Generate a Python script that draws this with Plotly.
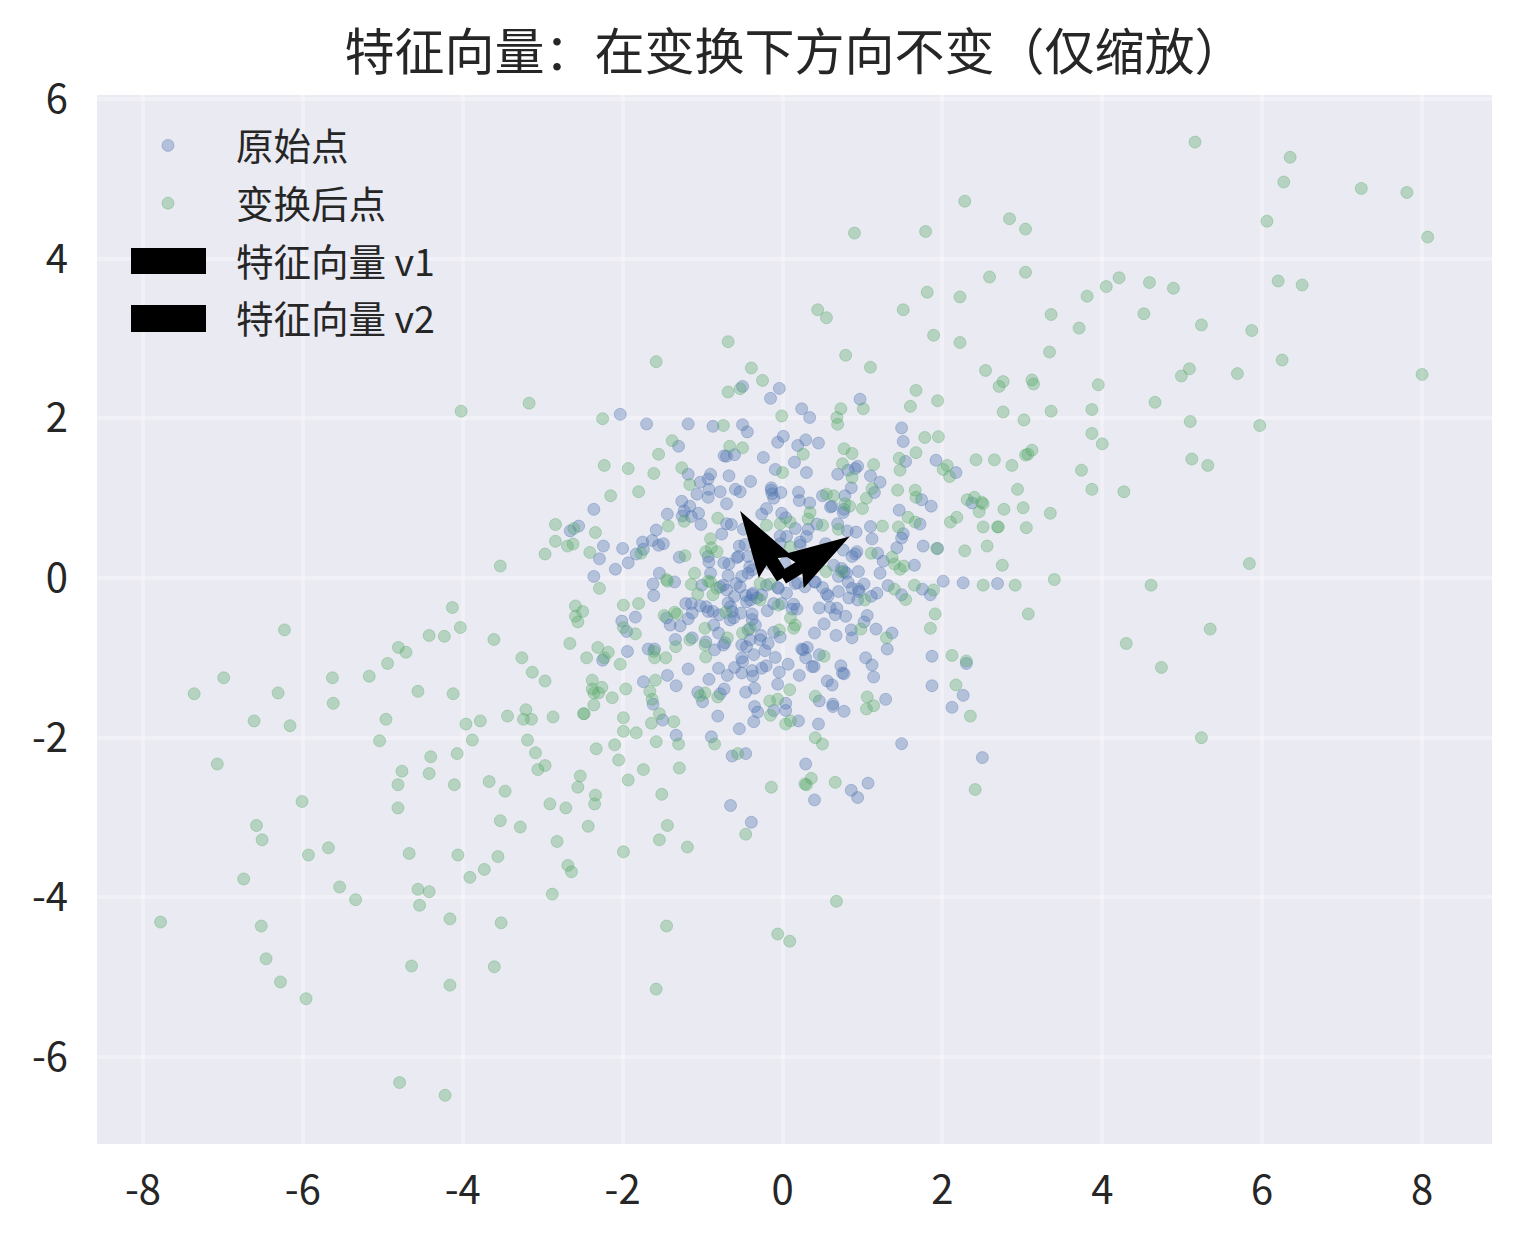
import plotly.graph_objects as go

# values as (x, y)
original_points = [
    (-2.03,2.05),(-1.70,1.93),(-1.18,1.93),(-0.87,1.90),(-0.50,1.92),(-0.44,1.83),(-0.15,2.25),(-0.04,2.375),
    (-0.50,2.40),(0.24,2.12),(0.34,2.01),(0.97,2.24),(1.49,1.88),(1.51,1.71),(-1.30,1.65),(0.01,1.775),
    (-0.06,1.70),(0.29,1.73),(0.19,1.66),(0.45,1.69),(-0.73,1.53),(-0.70,1.525),(-0.60,1.545),(-0.24,1.51),
    (0.15,1.45),(-0.09,1.36),(0.30,1.32),(0.69,1.30),(0.91,1.37),(0.94,1.40),(0.82,1.35),(1.10,1.28),
    (1.22,1.20),(1.54,1.46),(1.92,1.475),(2.17,1.32),(0.86,1.13),(-1.18,1.30),(-0.90,1.30),(-0.93,1.24),
    (-0.67,1.28),(-1.03,1.20),(-0.40,1.21),(-0.92,1.11),(-0.78,1.08),(-0.59,1.11),(-0.53,1.08),(-1.07,1.05),
    (-0.93,1.01),(-0.14,1.13),(-0.14,1.10),(-0.13,1.055),(-0.11,1.00),(-0.02,1.07),(0.20,1.075),(0.21,0.97),
    (0.34,0.94),(0.50,1.03),(0.78,1.03),(0.62,0.90),(0.60,0.89),(1.15,1.07),(1.46,0.85),(1.74,0.98),
    (1.86,0.90),(-2.36,0.86),(-1.26,0.96),(-1.16,0.90),(-1.23,0.84),(-1.255,0.775),(-1.14,0.77),(-1.05,0.81),
    (-1.44,0.80),(-1.02,0.67),(-0.70,0.93),(-0.20,0.87),(-0.26,0.80),(-0.01,0.81),(0.04,0.755),(0.76,0.82),
    (0.77,0.86),(0.69,0.68),(1.10,0.645),(1.72,0.675),(-2.55,0.65),(-2.655,0.59),(-1.58,0.60),(-0.70,0.68),
    (-0.64,0.67),(-0.76,0.55),(-0.49,0.61),(0.16,0.62),(0.32,0.61),(0.43,0.675),(0.81,0.59),
    (0.92,0.575),(1.12,0.49),(1.51,0.555),(1.49,0.50),(1.43,0.38),(1.76,0.40),(1.94,0.37),(-2.24,0.40),
    (-2.00,0.37),(-1.75,0.45),(-1.63,0.47),(-1.55,0.41),(-1.49,0.43),(-1.74,0.36),(-1.83,0.30),(-2.29,0.24),
    (-1.93,0.19),(-2.09,0.11),(-2.36,0.02),(-1.54,0.06),(-1.29,0.26),(-0.93,0.27),(-0.92,0.20),(-0.90,0.06),
    (-0.735,0.19),(-0.67,0.175),(-0.57,0.255),(-0.54,0.40),(-0.47,0.42),(-0.43,0.27),(-0.68,0.03),(-0.51,0.02),
    (-0.38,0.10),(-0.03,0.525),(0.05,0.52),(0.22,0.45),(0.30,0.52),(-0.03,0.43),(0.54,0.43),(0.76,0.35),
    (0.87,0.27),(0.93,0.33),(0.91,0.30),(1.19,0.31),(1.26,0.21),(1.65,0.16),(0.74,0.12),(0.77,0.08),
    (0.70,0.02),(0.95,0.08),(1.22,0.06),(2.01,-0.04),(-1.62,-0.075),(-1.61,-0.22),(-1.35,-0.05),(-1.01,-0.09),
    (-0.74,-0.09),(-0.58,-0.07),(-0.70,-0.15),(-0.60,-0.23),(-0.46,-0.22),(-0.38,-0.21),(-0.32,-0.25),(-0.26,-0.21),
    (-0.45,-0.30),(-0.40,-0.275),(-0.06,-0.12),(0.05,-0.19),(0.19,-0.06),(0.28,-0.11),(0.40,-0.05),(0.50,-0.12),
    (0.55,-0.20),(0.57,-0.225),(0.70,-0.17),(0.83,-0.25),(0.87,-0.13),(0.95,-0.14),(0.96,-0.17),(1.02,-0.075),
    (0.94,-0.275),(1.11,-0.23),(1.18,-0.19),(1.32,-0.095),(1.49,-0.21),(1.75,-0.14),(1.85,-0.21),(2.26,-0.06),
    (-1.21,-0.32),(-1.14,-0.32),(-1.13,-0.44),(-1.03,-0.35),(-0.955,-0.36),(-0.93,-0.42),(-0.87,-0.42),(-0.79,-0.46),
    (-0.68,-0.31),(-0.65,-0.36),(-0.63,-0.42),(-0.655,-0.525),(-0.61,-0.50),(-0.52,-0.44),(-0.38,-0.45),(-0.38,-0.52),
    (-0.19,-0.41),(-0.11,-0.32),(-0.01,-0.32),(0.14,-0.33),(0.18,-0.39),(0.12,-0.39),(0.46,-0.375),(0.595,-0.37),
    (0.68,-0.38),(0.66,-0.46),(0.79,-0.48),(1.06,-0.47),(1.02,-0.55),(0.52,-0.575),(0.86,-0.65),(0.40,-0.69),
    (0.67,-0.72),(0.87,-0.75),(1.17,-0.64),(1.37,-0.69),(1.31,-0.89),(1.87,-0.98),(1.04,-1.00),(1.12,-1.09),
    (1.14,-1.24),(1.87,-1.35),(1.29,-1.52),(2.12,-1.62),(2.26,-1.47),(-2.01,-0.54),(-1.84,-0.49),(-1.95,-0.67),
    (-1.45,-0.50),(-1.405,-0.59),(-1.28,-0.60),(-1.18,-0.51),(-0.86,-0.59),(-0.80,-0.69),(-1.13,-0.75),(-1.34,-0.77),
    (-0.96,-0.80),(-0.72,-0.81),(-0.74,-0.84),(-0.85,-0.90),(-0.34,-0.59),(-0.43,-0.65),(-0.27,-0.72),(-0.28,-0.775),
    (-0.405,-0.775),(-0.51,-0.84),(-0.45,-0.86),(-0.18,-0.82),(-0.22,-0.91),(-0.36,-0.96),(-0.11,-0.68),(-0.03,-0.74),
    (-0.09,-0.995),(0.24,-0.89),(0.31,-0.87),(0.26,-0.90),(0.29,-1.00),(0.46,-0.96),(0.37,-1.11),(0.395,-1.11),
    (0.73,-1.10),(0.75,-1.19),(0.77,-1.20),(0.07,-1.08),(0.21,-1.22),(0.56,-1.29),(0.62,-1.34),(-0.04,-1.18),
    (-0.06,-1.33),(-0.205,-1.10),(-0.26,-1.13),(-0.38,-1.16),(-0.37,-1.23),(-0.51,-1.19),(-0.60,-1.12),(-0.51,-1.00),
    (-0.50,-1.05),(-0.80,-1.13),(-0.69,-1.22),(-0.92,-1.27),(-1.18,-1.14),(-1.44,-1.22),(-1.74,-1.30),(-1.33,-1.35),
    (-1.94,-0.92),(-1.68,-0.89),(-1.60,-0.89),(-2.25,-1.03),(-0.35,-1.38),(-0.46,-1.43),(-1.06,-1.43),(-1.00,-1.55),
    (-0.78,-1.45),(-0.73,-1.39),(-1.62,-1.58),(-0.81,-1.73),(-0.35,-1.61),(-0.31,-1.68),(-0.36,-1.80),(-0.54,-1.89),
    (-0.11,-1.66),(0.04,-1.57),(0.04,-1.66),(0.20,-1.79),(0.45,-1.83),(0.46,-1.54),(0.63,-1.58),(0.63,-1.61),
    (0.77,-1.67),(-1.50,-1.78),(-1.33,-1.97),(-0.89,-1.99),(-0.63,-2.23),(-0.46,-2.20),(0.29,-2.33),(1.49,-2.075),
    (-0.65,-2.85),(-0.39,-3.06),(0.40,-2.78),(0.86,-2.66),(0.94,-2.75),(1.07,-2.57),(2.37,0.94),(2.30,-1.07),
    (2.69,-0.07),(2.50,-2.25),(-0.55,0.27),(-0.41,0.14),(-0.43,0.06),(-0.78,-0.11),(-0.53,-0.11),(-0.05,-0.13),
    (0.03,0.18),(0.22,0.41),(0.16,-0.07),(0.41,-0.05),(0.64,0.16),(0.80,0.06),(0.82,-0.05),(-0.16,0.18),
    (-0.37,-0.19),(-0.20,-0.09),
]

transformed_points = [
    (-2.25,1.995),(-0.68,2.33),(-0.53,2.37),(-0.25,2.475),(0.73,2.12),(1.01,2.12),(-0.01,2.03),(0.68,2.01),
    (0.69,1.925),(1.67,2.35),(1.60,2.15),(1.94,2.22),(-0.74,1.91),(1.78,1.76),(1.95,1.77),(-1.38,1.72),
    (-0.66,1.65),(-0.50,1.63),(-1.55,1.55),(0.26,1.55),(0.77,1.62),(0.87,1.56),(1.67,1.57),(1.46,1.50),
    (-2.23,1.41),(-1.93,1.37),(-1.26,1.38),(0.75,1.43),(1.14,1.42),(2.06,1.41),(2.01,1.36),(1.47,1.35),
    (-1.61,1.31),(0.00,1.32),(0.87,1.26),(2.09,1.27),(-1.16,1.17),(-1.80,1.08),(1.44,1.10),(1.66,1.10),
    (1.67,1.01),(1.12,1.12),(1.05,1.00),(-2.15,1.03),(0.55,1.05),(0.64,1.03),(0.78,0.93),(0.84,0.90),
    (1.00,0.87),(0.345,0.82),(0.32,0.74),(-0.81,0.75),(-1.23,0.71),(-1.43,0.65),(-0.20,0.66),(-0.03,0.68),
    (0.095,0.70),(0.50,0.66),(0.70,0.61),(1.25,0.65),(1.45,0.64),(1.57,0.76),(1.66,0.70),(2.10,0.70),
    (2.18,0.76),(-2.61,0.62),(-2.34,0.57),(-0.90,0.49),(-2.62,0.425),(-2.69,0.40),(-2.41,0.32),(-1.77,0.31),
    (-1.22,0.28),(-0.89,0.38),(-0.96,0.33),(-0.82,0.33),(0.095,0.39),(1.11,0.31),(1.93,0.37),(1.37,0.26),
    (1.40,0.175),(1.47,0.11),(1.52,0.15),(0.545,0.08),(-1.10,0.06),(-1.45,-0.02),(-0.93,-0.04),
    (-4.13,-0.37),(-6.23,-0.65),(-4.03,-0.62),(-4.42,-0.72),(-4.23,-0.73),(-3.61,-0.77),(-4.805,-0.87),(-4.71,-0.93),
    (-3.26,-1.00),(-4.94,-1.07),(-3.13,-1.18),(-2.97,-1.29),(-6.99,-1.25),(-5.63,-1.25),(-5.17,-1.23),
    (-7.36,-1.45),(-6.31,-1.44),(-5.62,-1.57),(-4.56,-1.42),(-4.12,-1.45),(-6.61,-1.79),(-6.16,-1.85),(-4.96,-1.77),
    (-3.96,-1.83),(-3.78,-1.79),(-3.44,-1.73),(-3.21,-1.65),(-3.24,-1.77),(-3.14,-1.77),(-2.87,-1.74),(-5.04,-2.04),
    (-3.88,-2.03),(-3.19,-2.03),(-4.40,-2.24),(-4.07,-2.20),(-3.09,-2.19),(-7.07,-2.33),(-4.76,-2.42),(-4.42,-2.45),
    (-2.97,-2.35),(-3.06,-2.40),(-4.81,-2.59),(-4.105,-2.59),(-3.67,-2.55),(-3.47,-2.67),(-6.01,-2.80),(-4.81,-2.88),
    (-2.91,-2.83),(-2.71,-2.88),(-3.53,-3.04),(-3.28,-3.12),(-6.58,-3.10),(-6.51,-3.28),(-5.68,-3.38),(-5.93,-3.47),
    (-4.67,-3.45),(-4.06,-3.47),(-3.56,-3.49),(-2.82,-3.30),(-2.59,-0.35),(-2.50,-0.42),(-2.59,-0.48),(-2.56,-0.55),
    (-6.74,-3.77),(-5.54,-3.87),(-5.34,-4.03),(-4.56,-3.90),(-4.42,-3.93),(-4.54,-4.10),(-3.91,-3.75),(-3.73,-3.65),
    (-2.685,-3.60),(-2.64,-3.68),(-2.88,-3.96),(-7.78,-4.31),(-6.52,-4.36),(-4.16,-4.27),(-3.52,-4.32),(-6.46,-4.77),
    (-4.64,-4.86),(-3.605,-4.87),(-6.28,-5.06),(-4.16,-5.10),(-5.96,-5.27),(-4.79,-6.32),(-4.22,-6.48),
    (-2.05,-2.28),(-1.74,-2.40),(-1.29,-2.38),(-1.93,-2.53),(-2.53,-2.48),(-2.56,-2.62),(-2.34,-2.72),(-2.35,-2.83),
    (-1.51,-2.71),(-0.14,-2.62),(0.36,-2.51),(0.28,-2.58),(0.30,-2.59),(0.66,-2.56),(-0.46,-3.21),
    (-2.43,-3.11),(-1.44,-3.10),(-1.54,-3.28),(-1.19,-3.37),(-1.99,-3.43),(0.675,-4.05),(-1.45,-4.36),
    (-0.06,-4.46),(0.09,-4.55),(-1.58,-5.15),
    (5.16,5.46),(6.35,5.27),(6.27,4.96),(7.24,4.88),(7.81,4.83),(6.06,4.47),(8.07,4.27),(2.28,4.72),
    (2.84,4.50),(3.04,4.37),(2.59,3.77),(3.04,3.83),(6.20,3.72),(6.50,3.67),(4.21,3.76),(4.05,3.65),
    (4.59,3.70),(4.89,3.63),(3.81,3.53),(2.22,3.52),(3.36,3.30),(3.71,3.13),(4.52,3.31),(5.24,3.17),
    (5.87,3.10),(2.22,2.95),(3.34,2.83),(6.25,2.73),(2.54,2.60),(5.09,2.62),(4.99,2.53),(5.69,2.56),
    (8.00,2.55),(2.76,2.46),(2.71,2.40),(3.12,2.48),(3.14,2.43),(3.95,2.42),
    (4.66,2.20),(2.76,2.08),(3.36,2.09),(3.87,2.11),(3.02,1.98),(5.10,1.96),(5.97,1.91),(3.87,1.81),
    (4.00,1.68),(3.12,1.60),(3.07,1.55),(3.04,1.54),(2.42,1.48),(2.65,1.48),(2.87,1.41),(5.12,1.49),
    (5.32,1.41),(3.74,1.35),(2.94,1.11),(3.87,1.11),(4.27,1.08),(2.31,0.98),(2.40,1.01),(2.49,0.95),
    (2.51,0.93),(2.46,0.83),(2.77,0.86),(3.01,0.88),(3.35,0.81),(2.51,0.64),(2.69,0.64),
    (2.70,0.64),(3.05,0.63),(2.56,0.40),(2.28,0.34),(2.75,0.16),(5.84,0.18),(3.40,-0.02),(2.51,-0.09),
    (2.91,-0.09),(4.61,-0.09),
    (0.90,4.32),(1.79,4.34),(1.81,3.58),(0.44,3.36),(0.55,3.26),(1.51,3.36),(1.89,3.04),(-0.68,2.96),
    (0.79,2.79),(1.10,2.64),(-1.58,2.71),(-0.39,2.63),
    (3.075,-0.45),(5.35,-0.64),(4.30,-0.82),(4.74,-1.12),(5.24,-2.00),(2.12,-0.97),(2.30,-1.04),(2.17,-1.34),
    (2.35,-1.73),(2.41,-2.65),
    (-2.29,-0.13),(-1.44,-0.04),(-1.14,-0.08),(-1.06,-0.20),(-0.90,-0.05),(-0.87,-0.21),(-0.82,-0.13),(-0.28,-0.07),
    (-0.155,-0.075),(-1.99,-0.34),(-1.80,-0.32),(-1.48,-0.47),(-1.35,-0.43),(-1.32,-0.45),(-0.71,-0.43),(-0.28,-0.275),
    (-0.05,-0.34),(0.10,-0.50),(0.16,-0.59),(0.14,-0.63),(1.03,-0.275),(1.40,-0.14),(1.65,-0.09),(1.89,-0.15),
    (1.54,-0.27),(1.91,-0.45),(1.85,-0.63),(0.98,-0.64),(1.30,-0.75),(-1.99,-0.62),(-1.84,-0.70),(-2.66,-0.82),
    (-0.97,-0.63),(-1.16,-0.775),(-0.97,-0.84),(-1.335,-0.86),(-0.69,-0.75),(-0.50,-0.69),(-0.405,-0.63),(-0.04,-0.65),
    (-2.31,-0.87),(-2.18,-0.93),(-2.45,-1.00),(-2.23,-1.00),(-2.03,-1.08),(-1.61,-0.92),(-1.60,-1.00),(-1.46,-1.00),
    (-0.96,-0.99),(0.52,-0.98),(-2.38,-1.28),(-2.38,-1.39),(-2.26,-1.37),(-2.36,-1.44),(-2.30,-1.44),(-1.96,-1.39),
    (-1.59,-1.28),(-2.13,-1.50),(-1.66,-1.42),(-1.63,-1.52),(-2.36,-1.59),(-2.49,-1.70),(-2.48,-1.70),(-1.99,-1.75),
    (-1.54,-1.70),(-1.64,-1.82),(-1.36,-1.80),(-1.99,-1.92),(-1.83,-1.94),(-1.58,-2.05),(-2.33,-2.14),(-2.10,-2.09),
    (-1.30,-2.08),(-0.85,-2.08),(-0.56,-2.20),(-0.97,-1.44),(-1.03,-1.475),(-0.81,-1.49),(0.09,-1.40),(-0.16,-1.54),
    (-0.06,-1.52),(-0.15,-1.72),(0.04,-1.83),(0.10,-1.79),(0.41,-1.48),(1.06,-1.49),(1.14,-1.60),(1.05,-1.64),
    (0.41,-2.00),(0.50,-2.08),(0.74,0.08),
    (-4.02,2.09),(-3.17,2.19),(-3.53,0.15),(-2.84,0.46),(-2.84,0.67),(-2.97,0.30),
]

v1 = (0.84, 0.52)
v2 = (-0.53, 0.84)

tick_x = [-8, -6, -4, -2, 0, 2, 4, 6, 8]
tick_y = [-6, -4, -2, 0, 2, 4, 6]

FONT = "Noto Sans CJK SC"
TEXT = "#262626"
BLUE = "rgba(76,114,176,0.35)"
GREEN = "rgba(85,168,104,0.35)"
ARROW_W = 0.168  # shaft width in data units
PLOT_L, PLOT_R, PLOT_T, PLOT_B = 97, 1492, 95, 1144


def arrow_outline(v):
    # same shape as a matplotlib quiver arrow, starting at the origin
    ux, uy = v
    px, py = -uy, ux
    w = ARROW_W
    along = [0, 1 - 4.5 * w, 1 - 5 * w, 1, 1 - 5 * w, 1 - 4.5 * w, 0, 0]
    side = [w / 2, w / 2, 1.5 * w, 0, -1.5 * w, -w / 2, -w / 2, w / 2]
    xs = [a * ux + s * px for a, s in zip(along, side)]
    ys = [a * uy + s * py for a, s in zip(along, side)]
    return xs, ys


fig = go.Figure()

for name, pts, col in [("原始点", original_points, BLUE), ("变换后点", transformed_points, GREEN)]:
    fig.add_trace(go.Scatter(
        x=[p[0] for p in pts], y=[p[1] for p in pts], mode="markers", name=name, legendgroup=name,
        marker=dict(size=12, color=col, line=dict(color=col, width=1)),
    ))

for name, v in [("特征向量 v1", v1), ("特征向量 v2", v2)]:
    xs, ys = arrow_outline(v)
    fig.add_trace(go.Scatter(
        x=xs, y=ys, mode="lines", fill="toself", fillcolor="black",
        line=dict(width=0, color="black"), showlegend=False, hoverinfo="skip",
    ))
    # legend row only, the black swatch is a shape below
    fig.add_trace(go.Scatter(
        x=[None], y=[None], mode="lines", name=name, legendgroup=name,
        line=dict(color="rgba(0,0,0,0)", width=1),
    ))

# legend swatches for the arrows, they are much fatter than plotly draws them
for top, bottom in [(248, 274), (305, 332)]:
    fig.add_shape(
        type="rect", xref="paper", yref="paper", layer="above", fillcolor="black", line_width=0,
        x0=(131 - PLOT_L) / (PLOT_R - PLOT_L), x1=(206 - PLOT_L) / (PLOT_R - PLOT_L),
        y0=(PLOT_B - bottom) / (PLOT_B - PLOT_T), y1=(PLOT_B - top) / (PLOT_B - PLOT_T),
    )

axis_style = dict(
    showgrid=True, gridcolor="rgba(255,255,255,0.3)", gridwidth=4, zeroline=False, showline=False,
    ticks="", tickfont=dict(size=40, color=TEXT, family=FONT),
)
fig.update_xaxes(range=[-8.575, 8.875], tickvals=tick_x, ticktext=[str(t) for t in tick_x],
                 ticklabelstandoff=19, **axis_style)
fig.update_yaxes(range=[-7.09, 6.05], tickvals=tick_y, ticktext=[str(t) for t in tick_y],
                 ticklabelstandoff=28, **axis_style)

fig.update_layout(
    width=1521, height=1244,
    margin=dict(l=PLOT_L, r=1521 - PLOT_R, t=PLOT_T, b=1244 - PLOT_B, pad=0),
    autosize=False,
    paper_bgcolor="white", plot_bgcolor="#EAEAF2",
    font=dict(family=FONT, color=TEXT),
    title=dict(text="特征向量：在变换下方向不变（仅缩放）", x=0.5, xref="paper", xanchor="center",
               y=1 - 52 / 1244, yref="container", yanchor="middle",
               font=dict(size=50, color=TEXT, family=FONT)),
    legend=dict(x=0.00215, y=0.9814, xanchor="left", yanchor="top", bgcolor="rgba(0,0,0,0)",
                itemwidth=126, tracegroupgap=6, traceorder="grouped",
                font=dict(size=37.5, color=TEXT, family=FONT)),
)

fig.write_html("out.html", config={"displayModeBar": False},
               post_script="document.body.style.margin='0';")
